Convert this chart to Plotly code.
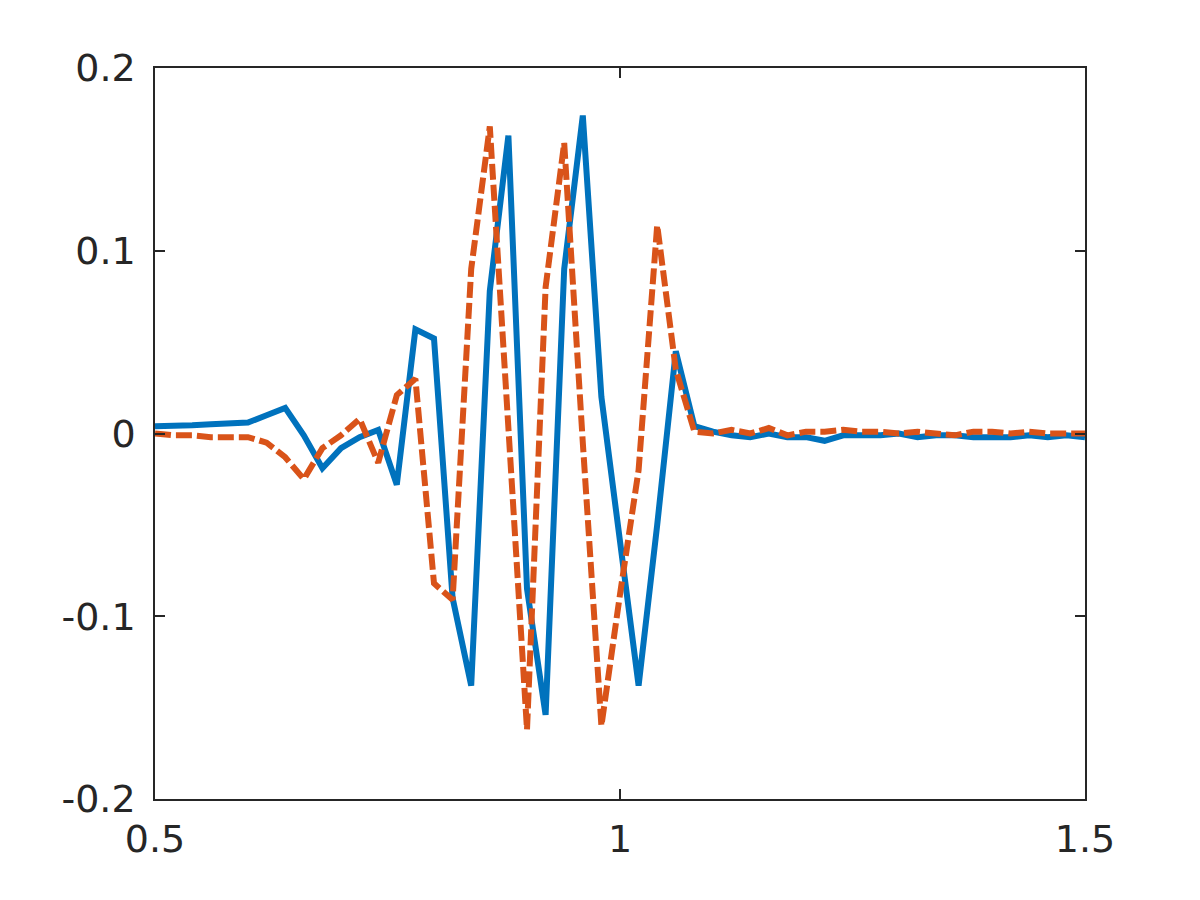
import plotly.graph_objects as go

# sample positions (step 0.02 from 0.5 to 1.5)
x_vals = [round(0.5 + 0.02 * i, 2) for i in range(51)]

blue_vals = [
    0.004, 0.004, 0.0045, 0.005, 0.0055, 0.006, 0.010, 0.014, -0.001, -0.019,
    -0.008, -0.002, 0.002, -0.028, 0.057, 0.052, -0.090, -0.138, 0.078, 0.163,
    -0.085, -0.154, 0.090, 0.174, 0.020, -0.060, -0.138, -0.050, 0.045, 0.004,
    0.001, -0.001, -0.002, 0.000, -0.002, -0.002, -0.004, -0.001, -0.001, -0.001,
    0.000, -0.002, -0.001, -0.001, -0.002, -0.002, -0.002, -0.001, -0.002, -0.001,
    -0.002,
]

orange_vals = [
    0.000, -0.001, -0.001, -0.002, -0.002, -0.002, -0.005, -0.013, -0.025, -0.008,
    -0.001, 0.008, -0.016, 0.021, 0.030, -0.082, -0.091, 0.090, 0.168, 0.004,
    -0.162, 0.080, 0.159, -0.005, -0.160, -0.088, -0.020, 0.114, 0.035, 0.001,
    0.000, 0.002, 0.000, 0.003, -0.001, 0.001, 0.001, 0.002, 0.001, 0.001,
    0.000, 0.001, 0.000, -0.001, 0.001, 0.001, 0.000, 0.001, 0.000, 0.000,
    0.000,
]

x_ticks = [0.5, 1, 1.5]
x_ticklabels = ["0.5", "1", "1.5"]
y_ticks = [-0.2, -0.1, 0, 0.1, 0.2]
y_ticklabels = ["-0.2", "-0.1", "0", "0.1", "0.2"]

fig = go.Figure()
fig.add_trace(go.Scatter(
    x=x_vals, y=blue_vals, mode="lines",
    line=dict(color="#0072BD", width=6),
))
fig.add_trace(go.Scatter(
    x=x_vals, y=orange_vals, mode="lines",
    line=dict(color="#D95319", width=6, dash="16px,5px"),
))

axis_common = dict(
    showgrid=False, zeroline=False,
    showline=True, linecolor="#262626", linewidth=1.5,
    mirror="ticks", ticks="inside", ticklen=10, tickwidth=1.5, tickcolor="#262626",
    tickfont=dict(family="DejaVu Sans", size=38, color="#262626"),
)

# the page body adds ~8px, so margins are shifted to land the box at 155..1085 / 68..799
fig.update_layout(
    width=1200, height=900,
    plot_bgcolor="#ffffff", paper_bgcolor="#ffffff",
    showlegend=False,
    margin=dict(l=147, r=123, t=60, b=109),
    xaxis=dict(range=[0.5, 1.5], tickvals=x_ticks, ticktext=x_ticklabels,
               ticklabelstandoff=6, **axis_common),
    yaxis=dict(range=[-0.2, 0.2], tickvals=y_ticks, ticktext=y_ticklabels,
               ticklabelstandoff=10, **axis_common),
)

fig.write_html("out.html")
